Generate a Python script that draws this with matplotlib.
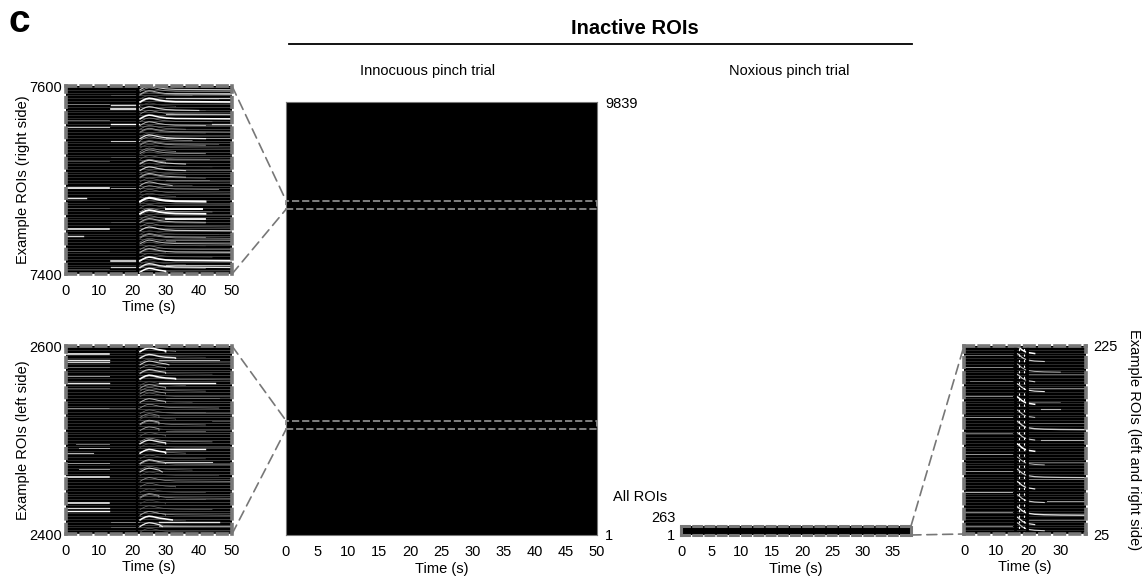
import matplotlib
matplotlib.use('Agg')
import matplotlib.pyplot as plt
from matplotlib.patches import ConnectionPatch, Rectangle
import numpy as np

plt.rcParams['font.family'] = ['Liberation Sans', 'DejaVu Sans']
plt.rcParams['font.size'] = 10.5

W, H = 1144, 579
FRAME = '#777777'

# shape of the response (time s, offset in ROIs)
arch_t = [22.3, 23, 24, 25, 26, 27, 28, 30, 33, 50]
arch_dy = [0, 1.5, 3.2, 4, 3.6, 2.8, 2, 1, 0.4, 0]
# shape of the response in the noxious panel
decay_t = [16.5, 17, 18, 19, 20, 22, 25, 30, 38]
decay_dy = [9, 8, 5, 3, 2, 1, 0.5, 0.2, 0]

# greys and end times repeated over the faint rows
faint_grey = [.35, .5, .3, .6, .4, .28, .55, .33, .45, .62, .3, .4, .5]
faint_end = [50, 42, 36, 50, 44, 30, 50, 42, 33, 50, 46, 38]

# streaks: roi, start, end, grey, width
top_flat = [
    (7581, 0, 13, .55, .6), (7564, 0, 13, .45, .6), (7556, 0, 13, .75, .8), (7492, 0, 13, 1, 1.2),
    (7481, 0, 6, .9, 1), (7448, 0, 13, 1, 1.1), (7440, 0, 5, .85, 1), (7520, 0, 13, .4, .5),
    (7470, 0, 13, .4, .5), (7425, 0, 13, .4, .5), (7405, 0, 13, .4, .5),
    (7580, 13.5, 22, .85, 1), (7576, 13.5, 22, 1, 1.2), (7560, 13.5, 22, 1, 1), (7541, 13.5, 22, .8, .8),
    (7492, 13.5, 22, .6, .7), (7414, 13.5, 22, 1, 1.1), (7407, 13.5, 22, .8, .9), (7590, 13.5, 22, .4, .5),
    (7525, 13.5, 22, .4, .5), (7455, 13.5, 22, .4, .5),
    (7469, 30, 41, 1, 1.4), (7459, 30, 42, 1, 1.3), (7570, 30, 50, .7, .8), (7566, 30, 50, .6, .7),
    (7593, 30, 50, .7, .8), (7545, 30, 50, .6, .7), (7522, 30, 43, .5, .6), (7500, 30, 43, .5, .6),
    (7410, 30, 50, .7, .8), (7436, 30, 50, .5, .6), (7560, 44, 50, .8, .9), (7587, 30, 50, .8, .9),
]
top_arch = [
    (7596, 50, .8, .8), (7591, 50, .7, .7), (7583, 50, 1, 1.2), (7574, 40, .8, .8), (7565, 50, 1, 1.1),
    (7558, 42, .7, .7), (7551, 50, .6, .6), (7544, 42, .9, .9), (7537, 42, .6, .6), (7528, 42, .6, .6),
    (7517, 36, .8, .8), (7510, 36, .8, .8), (7503, 36, .7, .7), (7494, 32, .7, .7), (7477, 42, 1, 1.5),
    (7464, 42, 1, 1.3), (7455, 42, .7, .7), (7446, 50, .8, .8), (7439, 42, .6, .6), (7432, 50, .7, .7),
    (7423, 50, .7, .8), (7414, 50, 1, 1.2), (7407, 50, .9, 1), (7402, 30, 1, 1.1),
]

bot_flat = [
    (2592, 0, 13, 1, 1.1), (2585, 0, 13, .9, 1), (2583, 0, 13, .8, .9), (2578, 0, 13, .45, .6),
    (2568, 0, 13, .6, .7), (2561, 0, 13, .9, 1), (2555, 0, 13, .4, .6), (2534, 0, 13, .55, .7),
    (2496, 3, 13, .5, .6), (2492, 4, 13, .7, .7), (2486, 0, 8, .7, .8), (2476, 0, 13, .6, .7),
    (2469, 4, 13, .6, .7), (2461, 0, 13, 1, 1.1), (2433, 0, 13, 1, 1.1), (2428, 0, 13, .85, .9),
    (2425, 0, 13, 1, 1), (2534, 13, 22, .4, .6), (2413, 13.5, 22, .55, .6), (2407, 13.5, 22, .4, .6),
    (2585, 28, 46, .7, .8), (2561, 28, 45, 1, 1), (2490, 30, 42, 1, 1), (2477, 30, 44, .8, .8),
    (2413, 28, 46, .9, 1), (2408, 28, 50, .6, .7), (2545, 30, 46, .45, .6), (2530, 30, 42, .4, .6),
    (2437, 30, 42, .4, .6), (2510, 30, 42, .4, .6), (2520, 44, 50, .4, .5),
]
bot_arch = [
    (2594, 30, 1, 1.2), (2587, 33, .9, 1), (2580, 31, .8, .8), (2571, 30, .8, .8), (2565, 33, 1, 1.1),
    (2555, 30, .6, .7), (2549, 30, .6, .6), (2540, 30, .7, .7), (2524, 28, .5, .6), (2517, 28, .7, .7),
    (2510, 28, .6, .6), (2496, 30, .9, 1), (2486, 30, 1, 1.1), (2475, 30, .8, .8), (2466, 29, .8, .8),
    (2439, 28, .6, .6), (2420, 30, .6, .6), (2415, 32, 1, 1.1), (2408, 29, .9, .9),
]

right_flat = [
    (215, 0, 15, .45, .6), (203, 0, 15, .6, .6), (195, 20, 38, .45, .6), (188, 2, 15, .5, .6),
    (180, 20, 38, .5, .7), (172, 0, 15, .55, .7), (165, 20, 30, .45, .5), (158, 24, 30, .7, .8),
    (150, 0, 15, .6, .7), (143, 20, 38, .45, .6), (132, 0, 15, .5, .6), (125, 24, 38, .7, .8),
    (110, 0, 15, .6, .7), (102, 20, 38, .45, .6), (92, 0, 15, .6, .7), (84, 20, 38, .55, .6),
    (70, 0, 15, .7, .7), (60, 26, 38, .6, .7), (48, 0, 15, .6, .6), (40, 20, 38, .5, .6),
    (33, 0, 15, .55, .6),
]
# roi, end time, grey, width
right_decay = [
    (216, 22, 1, 1.1), (208, 25, .8, .8), (197, 30, .7, .7), (186, 22, .8, .8), (176, 25, .9, .8), (162, 22, 1, 1.1),
    (148, 24, .7, .8), (136, 38, .8, 1), (124, 24, .8, .8), (112, 22, 1, 1.1), (98, 25, .7, .7), (85, 38, .8, .9),
    (72, 22, .9, .9), (58, 25, .8, .8), (45, 38, .9, 1), (34, 22, .9, .9), (28, 25, .8, .8),
]


def px_axes(x0, y0, x1, y1):
    return fig.add_axes([x0 / W, 1 - y1 / H, (x1 - x0) / W, (y1 - y0) / H])


def style(ax, xlim, ylim, xticks, yticks, right=False):
    ax.set_xlim(xlim)
    ax.set_ylim(ylim)
    ax.set_xticks(xticks)
    ax.set_yticks(yticks)
    ax.tick_params(length=0, pad=3)
    ax.tick_params(axis='x', pad=7)
    ax.set_xlabel('Time (s)', labelpad=2)
    if right:
        ax.yaxis.tick_right()


def dash_frame(ax, lw=2.6, dash=(2.6, 1.6)):
    ax.set_facecolor('black')
    for s in ax.spines.values():
        s.set_color(FRAME)
        s.set_linewidth(lw)
        s.set_linestyle((0, dash))
        s.set_zorder(6)


def rows(ax, ylim, xlim, tsplit, step=3):
    r = np.arange(ylim[0] + 1, ylim[1], step)
    ax.hlines(r, xlim[0], tsplit, color='#4d4d4d', lw=0.4, zorder=1)
    ax.hlines(r, tsplit, xlim[1], color='#666666', lw=0.45, zorder=1)


def faint_arches(ax, ylim, step):
    t = np.array(arch_t)
    dy = np.array(arch_dy)
    for i, roi in enumerate(np.arange(ylim[0] + 2, ylim[1] - 2, step)):
        g = faint_grey[i % len(faint_grey)]
        tend = faint_end[i % len(faint_end)]
        keep = t <= tend
        ax.plot(np.append(t[keep], tend), np.append(roi + dy[keep], roi), color=str(g), lw=0.5, zorder=2)


def draw_flat(ax, flat):
    for roi, t0, t1, g, w in flat:
        ax.plot([t0, t1], [roi, roi], color=str(g), lw=w, zorder=3)


def draw_arch(ax, arch):
    t = np.array(arch_t)
    dy = np.array(arch_dy)
    for roi, tend, g, w in arch:
        keep = t <= tend
        ax.plot(np.append(t[keep], tend), np.append(roi + dy[keep], roi), color=str(g), lw=w, zorder=3)


def connect(ax_a, xy_a, ax_b, xy_b):
    con = ConnectionPatch(xyA=xy_a, coordsA=ax_a.transData, xyB=xy_b, coordsB=ax_b.transData,
                          color=FRAME, lw=1.2, linestyle=(0, (6, 3.5)), zorder=10)
    fig.add_artist(con)


fig = plt.figure(figsize=(W / 100, H / 100), dpi=100)

# left side, two zooms
ax_top = px_axes(66, 86, 232, 274)
style(ax_top, (0, 50), (7400, 7600), [0, 10, 20, 30, 40, 50], [7400, 7600])
dash_frame(ax_top)
rows(ax_top, (7400, 7600), (0, 50), 22)
faint_arches(ax_top, (7400, 7600), 4)
draw_flat(ax_top, top_flat)
draw_arch(ax_top, top_arch)
ax_top.vlines(21.5, 7400, 7600, color='black', lw=2, zorder=4)
ax_top.set_ylabel('Example ROIs (right side)', labelpad=-1)

ax_bot = px_axes(66, 346, 232, 534)
style(ax_bot, (0, 50), (2400, 2600), [0, 10, 20, 30, 40, 50], [2400, 2600])
dash_frame(ax_bot)
rows(ax_bot, (2400, 2600), (0, 50), 22)
faint_arches(ax_bot, (2400, 2600), 6)
draw_flat(ax_bot, bot_flat)
draw_arch(ax_bot, bot_arch)
ax_bot.vlines(21.5, 2400, 2600, color='black', lw=1.6, zorder=4)
ax_bot.set_ylabel('Example ROIs (left side)', labelpad=-1)

# innocuous trial, all ROIs
ax_all = px_axes(286, 102, 597, 535)
style(ax_all, (0, 50), (1, 9839), np.arange(0, 51, 5), [1, 9839], right=True)
ax_all.tick_params(axis='y', pad=6)
ax_all.set_facecolor('black')
for s in ax_all.spines.values():
    s.set_color(FRAME)
    s.set_linewidth(0.8)
for y0, y1 in [(7400, 7600), (2400, 2600)]:
    ax_all.add_patch(Rectangle((0, y0), 50, y1 - y0, fill=False, ec='#8a8a8a', lw=1.3,
                               linestyle=(0, (4, 1.6)), clip_on=False, zorder=5))

# noxious trial, all ROIs
ax_nox = px_axes(681, 526, 911, 535)
style(ax_nox, (0, 38), (1, 263), np.arange(0, 36, 5), [1])
ax_nox.tick_params(axis='y', pad=4)
dash_frame(ax_nox, lw=2.2, dash=(2.6, 1.4))
ax_nox.annotate('263', xy=(0, 263), xytext=(-4, 1), textcoords='offset points',
                ha='right', va='bottom', annotation_clip=False)

# noxious zoom
ax_r = px_axes(964, 346, 1086, 534)
style(ax_r, (0, 38), (25, 225), [0, 10, 20, 30], [25, 225], right=True)
ax_r.tick_params(axis='y', pad=5)
dash_frame(ax_r)
rows(ax_r, (25, 225), (0, 38), 38)
draw_flat(ax_r, right_flat)
dt = np.array(decay_t)
dy_r = np.array(decay_dy)
for roi, tend, g, w in right_decay:
    keep = dt <= tend
    ax_r.plot(dt[keep], dy_r[keep] + roi, color=str(g), lw=w, zorder=3)
ax_r.vlines([15.8, 19.6], 25, 225, color='black', lw=2, zorder=4)
ax_r.vlines([17, 18.7], 25, 225, color='white', lw=0.8, linestyle=(0, (2, 3)), zorder=5)
ax_r.yaxis.set_label_position('right')
ax_r.set_ylabel('Example ROIs (left and right side)', rotation=270, labelpad=7, va='bottom')

# dashed links between panels
connect(ax_top, (50, 7600), ax_all, (0, 7600))
connect(ax_top, (50, 7400), ax_all, (0, 7400))
connect(ax_bot, (50, 2600), ax_all, (0, 2600))
connect(ax_bot, (50, 2400), ax_all, (0, 2400))
connect(ax_nox, (38, 263), ax_r, (0, 225))
connect(ax_nox, (38, 1), ax_r, (0, 25))

# headings
fig.text(9 / W, 1 - 22 / H, 'c', fontsize=28, fontweight='bold', va='center')
fig.text(635 / W, 1 - 28 / H, 'Inactive ROIs', fontsize=14.5, fontweight='bold', ha='center', va='center')
fig.add_artist(plt.Line2D([289 / W, 912 / W], [1 - 44 / H, 1 - 44 / H], color='black', lw=1.3))
fig.text(428 / W, 1 - 71 / H, 'Innocuous pinch trial', ha='center', va='center')
fig.text(789 / W, 1 - 71 / H, 'Noxious pinch trial', ha='center', va='center')
fig.text(640 / W, 1 - 497 / H, 'All ROIs', ha='center', va='center')

fig.savefig('out.png', dpi=100)
